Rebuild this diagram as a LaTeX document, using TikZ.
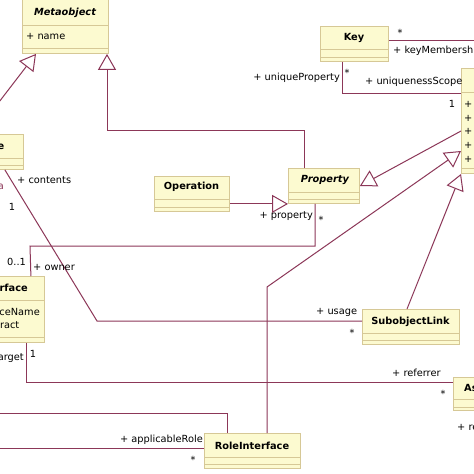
\documentclass[tikz,border=0pt]{standalone}
\usepackage{fontspec}
\setmainfont{DejaVu Sans}
\usetikzlibrary{arrows.meta,calc}
\definecolor{cfill}{RGB}{252,250,208}
\definecolor{cdraw}{RGB}{214,200,150}
\definecolor{conn}{RGB}{140,55,88}
\tikzset{
  cls/.style={draw=cdraw, fill=cfill, line width=0.9pt, inner sep=0pt, anchor=north west},
  sepl/.style={draw=cdraw, line width=0.9pt},
  ttl/.style={font=\fontsize{9.8}{11}\selectfont\bfseries, inner sep=0pt},
  ttli/.style={font=\fontsize{9.8}{11}\selectfont\bfseries\itshape, inner sep=0pt},
  lbl/.style={font=\fontsize{9.8}{11}\selectfont, inner sep=0pt},
  assoc/.style={draw=conn, line width=1pt},
  gen/.style={assoc, -{Triangle[open, length=16pt, width=18pt]}},
}
\begin{document}
\begin{tikzpicture}[x=1pt,y=-1pt]
\useasboundingbox (0,0) rectangle (474,474);
\clip (0,0) rectangle (474,474);
\fill[white] (0,0) rectangle (474,474);

% ---------- classes ----------
\node[cls, minimum width=86pt, minimum height=58pt] (meta) at (22,-5) {};
\node[ttli] (metat) at (65,13) {Metaobject};
\draw[sepl] (22,25) -- (108,25);
\draw[sepl] (22,48) -- (108,48);
\node[lbl, anchor=west] (metaa) at (26,36) {+ name};

\node[cls, minimum width=98pt, minimum height=35pt] (ebox) at (-75,134) {};
\node[ttl, anchor=east] (ebt) at (4.5,147) {e};
\draw[sepl] (-75,158) -- (23,158);
\draw[sepl] (-75,165) -- (23,165);

\node[cls, minimum width=68pt, minimum height=35pt] (key) at (320,26) {};
\node[ttl] (keyt) at (354,38) {Key};
\draw[sepl] (320,49) -- (388,49);
\draw[sepl] (320,57) -- (388,57);

\node[cls, minimum width=40pt, minimum height=105pt] (rb) at (461,68) {};
\draw[sepl] (461,92) -- (501,92);
\draw[sepl] (461,168) -- (501,168);
\foreach \yy/\nm in {104/p1,118/p2,131/p3,145/p4,159/p5}
  \node[lbl, anchor=west] (rb\nm) at (464,\yy) {+};

\node[cls, minimum width=75pt, minimum height=35pt] (op) at (154,176) {};
\node[ttl] (opt) at (191.5,187) {Operation};
\draw[sepl] (154,199) -- (229,199);
\draw[sepl] (154,207) -- (229,207);

\node[cls, minimum width=71pt, minimum height=35pt] (prop) at (288,168) {};
\node[ttli] (propt) at (325,180) {Property};
\draw[sepl] (288,192) -- (359,192);
\draw[sepl] (288,199) -- (359,199);

\node[cls, minimum width=97pt, minimum height=35pt] (sl) at (362,309) {};
\node[ttl] (slt) at (410.5,322) {SubobjectLink};
\draw[sepl] (362,333) -- (459,333);
\draw[sepl] (362,340) -- (459,340);

\node[cls, minimum width=104pt, minimum height=66pt] (iface) at (-60,276) {};
\node[ttl, anchor=east] (ifacet) at (28,288) {rface};
\draw[sepl] (-60,300) -- (44,300);
\node[lbl, anchor=east] (ifa1) at (40,312) {ceName};
\node[lbl, anchor=east] (ifa2) at (19.5,325) {ract};
\draw[sepl] (-60,337) -- (44,337);

\node[cls, minimum width=40pt, minimum height=33pt] (abox) at (453,377) {};
\node[ttl, anchor=west] (aboxt) at (464,388) {As};
\draw[sepl] (453,399) -- (493,399);
\draw[sepl] (453,407) -- (493,407);

\node[cls, minimum width=96pt, minimum height=35pt] (ri) at (204,433) {};
\node[ttl] (rit) at (252,446) {RoleInterface};
\draw[sepl] (204,457) -- (300,457);
\draw[sepl] (204,464) -- (300,464);

% ---------- connectors ----------
\draw[gen] (ebox.north) -- ($(meta.south west)+(14,0)$);
\draw[gen] ($(prop.north west)+(16,0)$) -- ++(0,-38) -| ($(meta.south west)+(85,0)$);
\draw[gen] (op.east |- prop.south west) -- (prop.south west);
\draw[gen] ($(rb.north west)+(0,63)$) -- ($(prop.north east)+(0,18)$);
\draw[gen] ($(ri.north west)+(63,0)$) -- ++(0,-146) -- ($(rb.north west)+(0,83)$);
\draw[gen] ($(sl.north west)+(45,0)$) -- (rb.south west);

\coordinate (kr) at (480,40);
\draw[assoc] ($(key.north east)+(0,14)$) -- (kr);
\draw[assoc] ($(key.south west)+(22,0)$) |- ($(rb.north west)+(0,25)$);
\draw[assoc] ($(ebox.south east)+(-19,0)$) -- (97,321) -- ($(sl.north west)+(0,12)$);
\draw[assoc] ($(prop.south west)+(27,0)$) |- (30,246) -- ($(iface.north east)+(-14,0)$);
\draw[assoc] ($(iface.south east)+(-18,0)$) |- ($(abox.north west)+(0,5)$);
\coordinate (l1) at (-5,413);
\draw[assoc] (l1) -| ($(ri.north west)+(23,0)$);
\coordinate (l2) at (-5,448);
\draw[assoc] (l2) -- ($(ri.north west)+(0,15)$);

% ---------- labels ----------
\node[lbl, anchor=west] (lcont) at (17,180) {+ contents};
\node[lbl] (lc1) at (12,207) {1};
\node[lbl, anchor=east, text=conn] (la) at (4,187) {a};
\node[lbl, anchor=east] (luprop) at (340,78) {+ uniqueProperty};
\node[lbl] (lks1) at (400,33) {*};
\node[lbl, anchor=west] (lkm) at (393,51) {+ keyMembership};
\node[lbl] (lks2) at (347,73) {*};
\node[lbl, anchor=west] (lus) at (365,82) {+ uniquenessScope};
\node[lbl] (lus1) at (452,104) {1};
\node[lbl, anchor=east] (lprop) at (313,216) {+ property};
\node[lbl] (lprops) at (321,220) {*};
\node[lbl, anchor=west] (l01) at (7,262) {0..1};
\node[lbl, anchor=west] (lown) at (33,267) {+ owner};
\node[lbl, anchor=west] (lusage) at (316,312) {+ usage};
\node[lbl] (lusages) at (352,333) {*};
\node[lbl, anchor=east] (ltarg) at (24,358) {arget};
\node[lbl] (ltarg1) at (33,354) {1};
\node[lbl, anchor=west] (lref) at (392,373) {+ referrer};
\node[lbl] (lrefs) at (443,394) {*};
\node[lbl, anchor=west] (lre) at (457,427) {+ re};
\node[lbl, anchor=east] (lapp) at (203,440) {+ applicableRole};
\node[lbl] (lapps) at (193,460) {*};
\end{tikzpicture}
\end{document}
